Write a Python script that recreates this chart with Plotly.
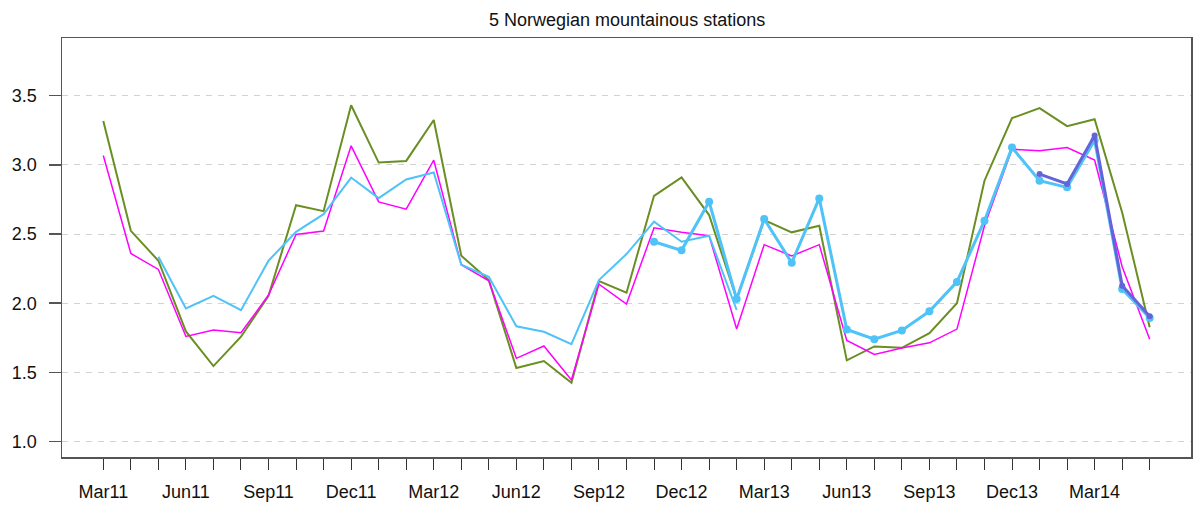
import plotly.graph_objects as go

# ---- data ----
months = ["Mar11", "Apr11", "May11", "Jun11", "Jul11", "Aug11", "Sep11", "Oct11", "Nov11", "Dec11",
          "Jan12", "Feb12", "Mar12", "Apr12", "May12", "Jun12", "Jul12", "Aug12", "Sep12", "Oct12",
          "Nov12", "Dec12", "Jan13", "Feb13", "Mar13", "Apr13", "May13", "Jun13", "Jul13", "Aug13",
          "Sep13", "Oct13", "Nov13", "Dec13", "Jan14", "Feb14", "Mar14", "Apr14", "May14"]
tick_labels = ["Mar11", "Jun11", "Sep11", "Dec11", "Mar12", "Jun12", "Sep12",
               "Dec12", "Mar13", "Jun13", "Sep13", "Dec13", "Mar14"]

green = [3.317, 2.523, 2.307, 1.796, 1.546, 1.758, 2.054, 2.708, 2.665, 3.430,
         3.016, 3.028, 3.324, 2.343, 2.167, 1.532, 1.582, 1.426, 2.160, 2.076,
         2.776, 2.909, 2.637, 2.030, 2.600, 2.512, 2.560, 1.587, 1.688, 1.678,
         1.784, 2.000, 2.885, 3.337, 3.409, 3.279, 3.329, 2.656, 1.827]
magenta = [3.067, 2.359, 2.244, 1.760, 1.806, 1.787, 2.059, 2.497, 2.521, 3.137,
           2.732, 2.679, 3.033, 2.278, 2.162, 1.602, 1.691, 1.445, 2.138, 1.994,
           2.545, 2.512, 2.488, 1.814, 2.423, 2.341, 2.423, 1.731, 1.630, 1.676,
           1.714, 1.813, 2.560, 3.113, 3.101, 3.125, 3.034, 2.264, 1.740]
blue_thin = [None, None, 2.335, 1.962, 2.054, 1.950, 2.307, 2.516, 2.643, 2.908,
             2.759, 2.894, 2.944, 2.278, 2.191, 1.833, 1.794, 1.705, 2.167, 2.355,
             2.589, 2.444, 2.488, 1.951] + [None] * 15
blue_thick = [None] * 20 + [2.444, 2.382, 2.733, 2.030, 2.608, 2.293, 2.757, 1.810, 1.740, 1.803,
                            1.942, 2.154, 2.596, 3.125, 2.885, 2.837, 3.178, 2.103, 1.894]
slate = [None] * 34 + [2.933, 2.861, 3.212, 2.127, 1.906]
y_ticks = [1.0, 1.5, 2.0, 2.5, 3.0, 3.5]

x = list(range(len(months)))
ticktext = [m if m in tick_labels else "" for m in months]

FONT = "Liberation Sans, Arial, Helvetica, sans-serif"

fig = go.Figure()
fig.add_trace(go.Scatter(x=x, y=green, mode="lines", line=dict(color="#6B8E23", width=2),
                         showlegend=False, hoverinfo="skip"))
fig.add_trace(go.Scatter(x=x, y=magenta, mode="lines", line=dict(color="#FF00FF", width=1.5),
                         showlegend=False, hoverinfo="skip"))
fig.add_trace(go.Scatter(x=x, y=blue_thin, mode="lines", line=dict(color="#4FC3F7", width=2),
                         showlegend=False, hoverinfo="skip"))
fig.add_trace(go.Scatter(x=x, y=blue_thick, mode="lines+markers", line=dict(color="#4FC3F7", width=3),
                         marker=dict(color="#4FC3F7", size=8), showlegend=False, hoverinfo="skip"))
fig.add_trace(go.Scatter(x=x, y=slate, mode="lines+markers", line=dict(color="#6464DA", width=3),
                         marker=dict(color="#6464DA", size=6), showlegend=False, hoverinfo="skip"))

fig.update_layout(
    width=1194, height=507,
    margin=dict(l=62, r=3, t=38, b=50),
    paper_bgcolor="white", plot_bgcolor="white",
    font=dict(family=FONT, size=18, color="#111111"),
)
fig.add_annotation(
    text="5 Norwegian mountainous stations", x=0.5, xref="paper", y=1, yref="paper",
    xanchor="center", yanchor="middle", yshift=18, showarrow=False,
    font=dict(family=FONT, size=18, color="#111111"),
)
fig.update_xaxes(
    range=[-1.5, 39.5], tickmode="array", tickvals=x, ticktext=ticktext,
    ticks="outside", ticklen=11, tickwidth=1, tickcolor="#333333",
    showgrid=False, zeroline=False, automargin=False,
    showline=True, linecolor="#555555", linewidth=1.5, mirror=True,
    tickfont=dict(family=FONT, size=18, color="#111111"), ticklabelstandoff=7,
)
fig.update_yaxes(
    range=[0.889, 3.916], tickmode="array", tickvals=y_ticks,
    ticktext=[f"{v:.1f}" for v in y_ticks],
    ticks="outside", ticklen=12, tickwidth=1.5, tickcolor="#555555",
    showgrid=True, gridcolor="#d3d3d3", gridwidth=1, griddash="6px,6px",
    zeroline=False, automargin=False,
    showline=True, linecolor="#555555", linewidth=1.5, mirror=True,
    tickfont=dict(family=FONT, size=18, color="#111111"), ticklabelstandoff=8,
)

fig.write_html("out.html", config={"displayModeBar": False, "staticPlot": True},
               post_script="document.body.style.margin='0';document.body.style.overflow='hidden';")
